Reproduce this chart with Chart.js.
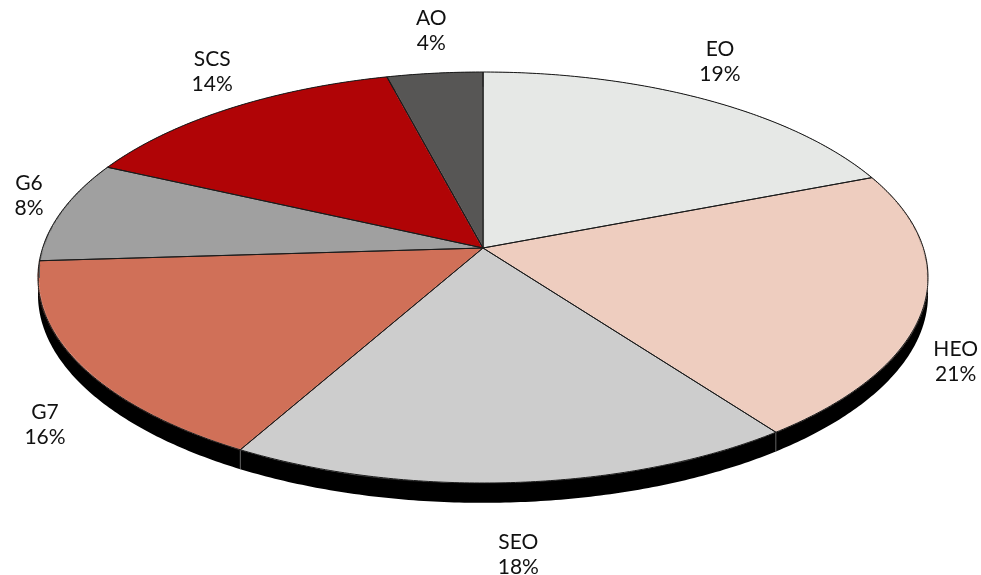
<!DOCTYPE html>
<html>
<head>
<meta charset="utf-8">
<script src="https://cdn.jsdelivr.net/npm/chart.js@4/dist/chart.umd.min.js"></script>
<style>
  html, body { margin: 0; padding: 0; background: #ffffff; }
  #wrap { width: 981px; height: 575px; }
</style>
</head>
<body>
<div id="wrap"><canvas id="c" width="981" height="575"></canvas></div>
<script>
// ---- data ----
const categories = ['EO', 'HEO', 'SEO', 'G7', 'G6', 'SCS', 'AO'];
const shares = [19, 21, 18, 16, 8, 14, 4];
const sliceColors = ['#e6e8e6', '#eecdbf', '#cdcdcd', '#d07058', '#a0a0a0', '#b00406', '#575655'];

// ---- perspective view of the pie (screen geometry) ----
const CX = 483;         // horizontal centre
const APEX_Y = 248;     // where the slices meet
const TOP_Y = 72;       // far rim
const BOTTOM_Y = 483;   // near rim
const HALF_W = 445;     // half of the widest extent
const DEPTH = 17;       // thickness of the disc (at the centre distance)
const FONT = '21px Lato';
const LINE_H = 25;

const Lb = BOTTOM_Y - APEX_Y, Lt = APEX_Y - TOP_Y;
const PB = (Lt - Lb) / (Lt + Lb);          // perspective factor
const PA = Lb * (1 + PB);
const PC = HALF_W * Math.sqrt(1 - PB * PB);

// unit-disc (u to the right, v towards the viewer) -> screen
function proj(u, v) {
  const s = 1 / (1 + PB * v);
  return { x: CX + PC * u * s, y: APEX_Y + PA * v * s, s: s };
}

const perspectivePlugin = {
  id: 'perspective3d',
  afterDatasetsDraw(chart) {
    const ctx = chart.ctx;
    const meta = chart.getDatasetMeta(0);
    const a0 = meta.data[0];
    const R = a0.outerRadius, ox = a0.x, oy = a0.y;
    const W = chart.canvas.width, H = chart.canvas.height;

    // keep the library's flat rendering of the pie
    const src = document.createElement('canvas');
    src.width = W; src.height = H;
    src.getContext('2d').drawImage(chart.canvas, 0, 0);

    ctx.save();
    ctx.setTransform(1, 0, 0, 1, 0, 0);
    ctx.clearRect(0, 0, W, H);

    const rimPts = (arc) => {
      const pts = [];
      const n = Math.max(2, Math.ceil((arc.endAngle - arc.startAngle) / 0.01));
      for (let k = 0; k <= n; k++) {
        const t = arc.startAngle + (arc.endAngle - arc.startAngle) * k / n;
        pts.push(proj(Math.cos(t), Math.sin(t)));
      }
      return pts;
    };

    // side wall of each slice
    meta.data.forEach(arc => {
      const pts = rimPts(arc);
      ctx.beginPath();
      pts.forEach((p, k) => k ? ctx.lineTo(p.x, p.y) : ctx.moveTo(p.x, p.y));
      for (let k = pts.length - 1; k >= 0; k--) ctx.lineTo(pts[k].x, pts[k].y + DEPTH * pts[k].s);
      ctx.closePath();
      ctx.fillStyle = '#000000';
      ctx.fill();
    });

    // warp the flat pie onto the tilted disc, row by row
    ctx.imageSmoothingEnabled = true;
    for (let y = Math.floor(TOP_Y) - 1; y <= Math.ceil(BOTTOM_Y) + 1; y++) {
      const t = y + 0.5 - APEX_Y;
      const v = t / (PA - PB * t);
      if (v < -1.01 || v > 1.01) continue;
      const s = 1 / (1 + PB * v);
      const sy = oy + v * R;
      const sx0 = ox - R - 2, sw = 2 * R + 4;
      const dx = CX + PC * s * (sx0 - ox) / R;
      const dw = PC * s * sw / R;
      ctx.drawImage(src, sx0, sy - 0.5, sw, 1, dx, y, dw, 1);
    }

    // seams on the visible side wall
    ctx.strokeStyle = '#5a5a5a';
    ctx.lineWidth = 1;
    meta.data.forEach(arc => {
      const a = arc.startAngle;
      if (Math.sin(a) > 0.05) {
        const p = proj(Math.cos(a), Math.sin(a));
        ctx.beginPath();
        ctx.moveTo(p.x, p.y);
        ctx.lineTo(p.x, p.y + DEPTH * p.s);
        ctx.stroke();
      }
    });

    // slice outlines
    const c0 = proj(0, 0);
    ctx.beginPath();
    meta.data.forEach(arc => {
      const pts = rimPts(arc);
      ctx.moveTo(c0.x, c0.y);
      pts.forEach(p => ctx.lineTo(p.x, p.y));
      ctx.closePath();
    });
    ctx.strokeStyle = '#1a1a1a';
    ctx.lineJoin = 'round';
    ctx.stroke();

    // labels
    const total = shares.reduce((a, b) => a + b, 0);
    ctx.font = FONT;
    ctx.fillStyle = '#111111';
    ctx.textAlign = 'center';
    ctx.textBaseline = 'middle';
    meta.data.forEach((arc, i) => {
      const m = (arc.startAngle + arc.endAngle) / 2;
      const u = Math.cos(m), v = Math.sin(m);
      const p = proj(1.08 * u, 1.08 * v);
      const pct = Math.round(shares[i] / total * 100) + '%';
      const w = Math.max(ctx.measureText(categories[i]).width, ctx.measureText(pct).width);
      let x = Math.min(Math.max(p.x, w / 2 + 3), W - w / 2 - 3);
      let y = p.y + (v < 0 ? -30 * Math.sqrt(-v) : 30 + 20);
      ctx.fillText(categories[i], x, y - LINE_H / 2);
      ctx.fillText(pct, x, y + LINE_H / 2);
    });
    ctx.restore();
  }
};

new Chart(document.getElementById('c'), {
  type: 'pie',
  data: {
    labels: categories,
    datasets: [{
      data: shares,
      backgroundColor: sliceColors,
      borderWidth: 0,
      clip: false
    }]
  },
  options: {
    responsive: false,
    animation: false,
    layout: { padding: 0 },
    plugins: {
      legend: { display: false },
      tooltip: { enabled: false }
    }
  },
  plugins: [perspectivePlugin]
});
</script>
</body>
</html>
